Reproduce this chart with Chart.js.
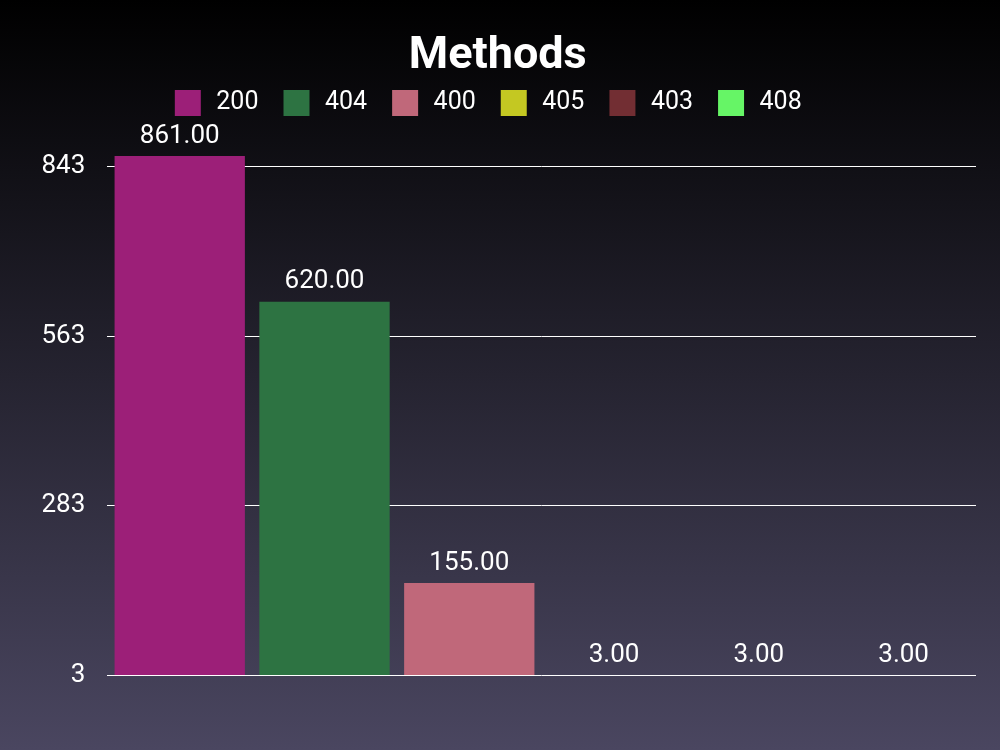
<!DOCTYPE html>
<html>
<head>
<meta charset="utf-8">
<script src="https://cdn.jsdelivr.net/npm/chart.js@4/dist/chart.umd.min.js"></script>
<style>
  html, body { margin: 0; padding: 0; }
  body { width: 1000px; height: 750px; background: linear-gradient(to bottom, #000000 0%, #4a4660 100%); }
  #wrap { width: 1000px; height: 750px; position: relative; }
</style>
</head>
<body>
<div id="wrap"><canvas id="c"></canvas></div>
<script>
const chartTitle = "Methods";
const categories = [""];
const seriesNames = ["200", "404", "400", "405", "403", "408"];
const seriesValues = [861, 620, 155, 3, 3, 3];
const seriesColors = ["#9c1f78", "#2d7342", "#c0687a", "#c4c822", "#722e33", "#66f566"];
const yTicks = [3, 283, 563, 843];

// legend swatch: 26x26 square placed inside a wider transparent slot
function legendSwatch(color) {
  const c = document.createElement('canvas');
  c.width = 44; c.height = 26;
  const g = c.getContext('2d');
  g.fillStyle = color;
  g.fillRect(15, 0, 26, 26);
  return c;
}
const swatches = seriesColors.map(legendSwatch);

const datasets = seriesNames.map((name, i) => ({
  label: name,
  data: [seriesValues[i]],
  backgroundColor: seriesColors[i],
  borderWidth: 0,
  barPercentage: 0.9,
  categoryPercentage: 1.0
}));

const valueLabels = {
  id: 'valueLabels',
  afterDatasetsDraw(chart) {
    const ctx = chart.ctx;
    ctx.save();
    ctx.font = '26px Roboto';
    ctx.fillStyle = '#ffffff';
    ctx.textAlign = 'center';
    ctx.textBaseline = 'bottom';
    chart.data.datasets.forEach((ds, i) => {
      const meta = chart.getDatasetMeta(i);
      meta.data.forEach((el, j) => {
        ctx.fillText(Number(ds.data[j]).toFixed(2), el.x, el.y - 7);
      });
    });
    ctx.restore();
  }
};

const legendGap = {
  id: 'legendGap',
  beforeLayout(chart) {
    const lg = chart.legend;
    if (lg && !lg._gapPatched) {
      const fit = lg.fit;
      lg.fit = function () { fit.call(this); this.height += 30.5; };
      lg._gapPatched = true;
    }
  },
  afterLayout(chart) {
    if (chart.legend) chart.legend.right -= 34;
  }
};

Chart.defaults.font.family = 'Roboto';
Chart.defaults.color = '#ffffff';

new Chart(document.getElementById('c'), {
  type: 'bar',
  data: { labels: categories, datasets },
  plugins: [valueLabels, legendGap],
  options: {
    responsive: true,
    maintainAspectRatio: false,
    animation: false,
    layout: { padding: { left: 19.5, right: 24, top: 14, bottom: 75 } },
    plugins: {
      title: {
        display: true,
        text: chartTitle,
        color: '#ffffff',
        font: { size: 45, weight: 'bold', family: 'Roboto', lineHeight: 1 },
        padding: { top: 20, bottom: 1.5 }
      },
      legend: {
        display: true,
        labels: {
          color: '#ffffff',
          font: { size: 25, family: 'Roboto' },
          usePointStyle: true,
          pointStyleWidth: 44,
          boxHeight: 25,
          padding: 10,
          generateLabels(chart) {
            const items = Chart.defaults.plugins.legend.labels.generateLabels(chart);
            items.forEach((it, i) => { it.pointStyle = swatches[i]; it.lineWidth = 0; });
            return items;
          }
        }
      },
      tooltip: { enabled: false }
    },
    scales: {
      x: { display: false, grid: { display: false } },
      y: {
        min: 3,
        max: 861,
        afterBuildTicks: (s) => { s.ticks = yTicks.map(v => ({ value: v })); },
        grid: { color: '#ffffff', lineWidth: 1, drawTicks: false },
        border: { display: false },
        ticks: { color: '#ffffff', font: { size: 26, family: 'Roboto' }, padding: 22 }
      }
    }
  }
});
</script>
</body>
</html>
